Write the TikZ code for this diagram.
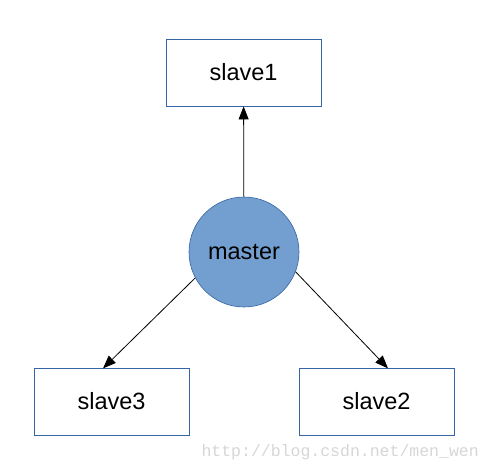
\documentclass[tikz,border=0pt]{standalone}
\usepackage{fontspec}
\setmainfont{Liberation Sans}
\newfontfamily\urlfont{Liberation Mono}
\usepackage{tikz}
\usetikzlibrary{arrows.meta, positioning}
\definecolor{boxblue}{RGB}{52,101,164}
\definecolor{masterfill}{RGB}{114,159,207}
\definecolor{marklight}{RGB}{214,214,214}
\tikzset{
  slavebox/.style={rectangle, draw=boxblue, fill=white, line width=0.8pt,
    minimum width=155pt, minimum height=67pt, inner sep=0pt,
    font=\fontsize{23.5}{28}\selectfont},
  masternode/.style={circle, draw=boxblue, fill=masterfill, line width=0.6pt,
    minimum size=110pt, inner sep=0pt, font=\fontsize{23.5}{28}\selectfont},
  arrow/.style={-{Triangle[length=13pt,width=10pt]}, line width=0.8pt, color=black}
}

\begin{document}
\begin{tikzpicture}[x=1pt,y=-1pt]
  \useasboundingbox (0,0) rectangle (489,472);

  % master and its slaves
  \node[masternode] (master) at (244,252) {master};
  \node[slavebox] (slave1) at (243.5,72.5) {slave1};
  \node[slavebox] (slave3) at (111.5,401.5) {slave3};
  \node[slavebox] (slave2) at (376.5,401.5) {slave2};

  % connectors
  \draw[arrow] (master) -- (slave1);
  \draw[arrow] (master.-152) -- (103,368.4);
  \draw[arrow] (master.-21) -- (388,368.4);

  % watermark
  \node[color=marklight, font=\urlfont\fontsize{16.5}{18}\selectfont, anchor=west] (mark) at (198,452) {http://blog.csdn.net/men\_wen};
\end{tikzpicture}
\end{document}
